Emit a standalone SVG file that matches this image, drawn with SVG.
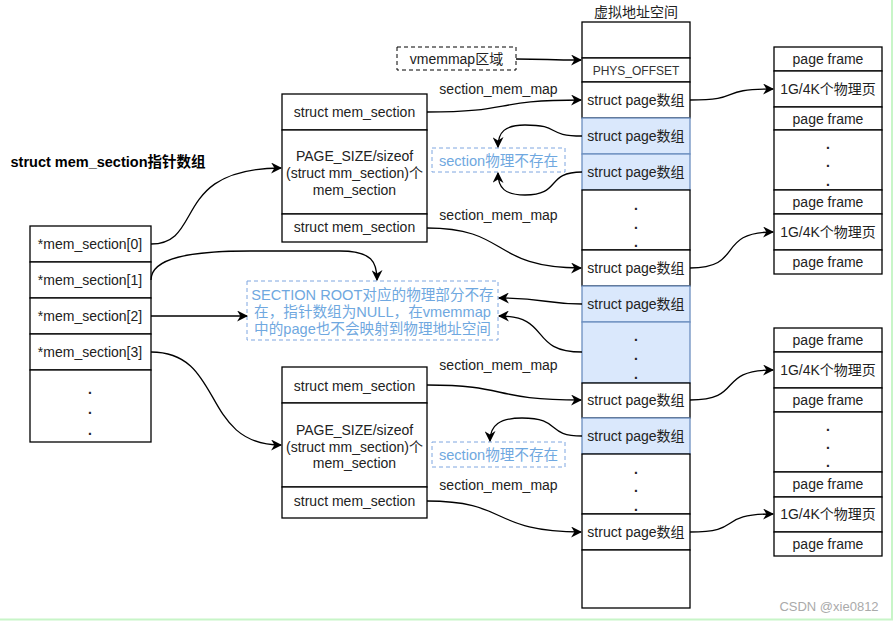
<svg xmlns="http://www.w3.org/2000/svg" width="893" height="621" viewBox="0 0 893 621">
<defs>
<style>
text{font-family:"Liberation Sans","Noto Sans CJK SC",sans-serif;font-size:14px;fill:#222;dominant-baseline:central;text-anchor:middle}
.box{fill:#fff;stroke:#000;stroke-width:1.3}
.blue{fill:#dae8fc;stroke:#6c8ebf;stroke-width:1.3}
.dash{fill:none;stroke:#7ea6e0;stroke-width:1;stroke-dasharray:4 3}
.bt{fill:#6fa8e0}
.big{font-size:14.6px}
.dot{font-weight:bold}
.edge{fill:none;stroke:#000;stroke-width:1.3;marker-end:url(#arr)}
</style>
<marker id="arr" viewBox="0 0 10 10" refX="9" refY="5" markerWidth="11" markerHeight="11" markerUnits="userSpaceOnUse" orient="auto">
<path d="M0,0 L10,5 L0,10 L3,5 Z" fill="#000"/>
</marker>
</defs>
<rect width="893" height="621" fill="#fff"/>
<path d="M892,0 V619.5 H0" fill="none" stroke="#c8f5c8" stroke-width="2"/>

<text x="108" y="162" style="font-weight:bold;font-size:14.5px;fill:#000">struct mem_section指针数组</text>

<g id="mem_section_array">
<rect class="box" x="30" y="226" width="121" height="36"/>
<text x="90" y="244">*mem_section[0]</text>
<rect class="box" x="30" y="262" width="121" height="36"/>
<text x="90" y="280">*mem_section[1]</text>
<rect class="box" x="30" y="298" width="121" height="36"/>
<text x="90" y="316">*mem_section[2]</text>
<rect class="box" x="30" y="334" width="121" height="36"/>
<text x="90" y="352">*mem_section[3]</text>
<rect class="box" x="30" y="370" width="121" height="72"/>
<text class="dot" x="90" y="389">.</text>
<text class="dot" x="90" y="409">.</text>
<text class="dot" x="90" y="430">.</text>
</g>

<g id="section_block_1">
<rect class="box" x="282" y="94" width="145" height="36"/>
<text x="354.5" y="112">struct mem_section</text>
<rect class="box" x="282" y="130" width="145" height="84"/>
<text x="354.5" y="156">PAGE_SIZE/sizeof</text>
<text x="354.5" y="173">(struct mm_section)个</text>
<text x="354.5" y="190">mem_section</text>
<rect class="box" x="282" y="214" width="145" height="28"/>
<text x="354.5" y="227">struct mem_section</text>
</g>

<g id="section_block_2">
<rect class="box" x="282" y="367" width="145" height="36"/>
<text x="354.5" y="386">struct mem_section</text>
<rect class="box" x="282" y="403" width="145" height="84"/>
<text x="354.5" y="430">PAGE_SIZE/sizeof</text>
<text x="354.5" y="447">(struct mm_section)个</text>
<text x="354.5" y="463">mem_section</text>
<rect class="box" x="282" y="487" width="145" height="31"/>
<text x="354.5" y="501">struct mem_section</text>
</g>

<g id="vmemmap_label">
<rect x="397" y="47" width="119" height="23" fill="#fff" stroke="#000" stroke-width="1" stroke-dasharray="4 3"/>
<text x="456.5" y="59">vmemmap区域</text>
</g>

<g id="section_root_note">
<rect class="dash" x="247" y="281" width="251" height="59"/>
<text class="bt big" x="372.5" y="295">SECTION ROOT对应的物理部分不存</text>
<text class="bt big" x="372.5" y="312">在，指针数组为NULL，在vmemmap</text>
<text class="bt big" x="372.5" y="329">中的page也不会映射到物理地址空间</text>
</g>

<g id="missing_note_1">
<rect class="dash" x="432" y="148" width="133" height="24"/>
<text class="bt big" x="498.5" y="161">section物理不存在</text>
</g>
<g id="missing_note_2">
<rect class="dash" x="432" y="442" width="133" height="25"/>
<text class="bt big" x="498.5" y="455">section物理不存在</text>
</g>

<g id="labels">
<text x="498.5" y="89">section_mem_map</text>
<text x="498.5" y="215">section_mem_map</text>
<text x="498.5" y="365">section_mem_map</text>
<text x="498.5" y="485">section_mem_map</text>
</g>

<g id="virtual_address_space">
<text x="636" y="12">虚拟地址空间</text>
<rect class="box" x="582" y="22" width="108" height="36"/>
<rect class="box" x="582" y="58" width="108" height="24"/>
<text x="636" y="71" style="font-size:12px;fill:#333">PHYS_OFFSET</text>
<rect class="box" x="582" y="82" width="108" height="36"/>
<text x="636" y="100">struct page数组</text>
<rect class="blue" x="582" y="118" width="108" height="36"/>
<text x="636" y="136">struct page数组</text>
<rect class="blue" x="582" y="154" width="108" height="36"/>
<text x="636" y="172">struct page数组</text>
<rect class="box" x="582" y="190" width="108" height="60"/>
<text class="dot" x="636" y="205">.</text>
<text class="dot" x="636" y="224">.</text>
<text class="dot" x="636" y="242">.</text>
<rect class="box" x="582" y="250" width="108" height="36"/>
<text x="636" y="268">struct page数组</text>
<rect class="blue" x="582" y="286" width="108" height="36"/>
<text x="636" y="304">struct page数组</text>
<rect class="blue" x="582" y="322" width="108" height="61"/>
<text class="dot" x="636" y="336">.</text>
<text class="dot" x="636" y="355">.</text>
<text class="dot" x="636" y="374">.</text>
<rect class="box" x="582" y="383" width="108" height="35"/>
<text x="636" y="400">struct page数组</text>
<rect class="blue" x="582" y="418" width="108" height="36"/>
<text x="636" y="436">struct page数组</text>
<rect class="box" x="582" y="454" width="108" height="60"/>
<text class="dot" x="636" y="469">.</text>
<text class="dot" x="636" y="487">.</text>
<text class="dot" x="636" y="506">.</text>
<rect class="box" x="582" y="514" width="108" height="36"/>
<text x="636" y="532">struct page数组</text>
<rect class="box" x="582" y="550" width="108" height="58"/>
</g>

<g id="physical_pages_1">
<rect class="box" x="774" y="47" width="108" height="24"/>
<text x="828" y="59">page frame</text>
<rect class="box" x="774" y="71" width="108" height="36"/>
<text x="828" y="89">1G/4K个物理页</text>
<rect class="box" x="774" y="107" width="108" height="23"/>
<text x="828" y="119">page frame</text>
<rect class="box" x="774" y="130" width="108" height="60"/>
<text class="dot" x="828" y="144">.</text>
<text class="dot" x="828" y="162">.</text>
<text class="dot" x="828" y="181">.</text>
<rect class="box" x="774" y="190" width="108" height="24"/>
<text x="828" y="202">page frame</text>
<rect class="box" x="774" y="214" width="108" height="36"/>
<text x="828" y="232">1G/4K个物理页</text>
<rect class="box" x="774" y="250" width="108" height="24"/>
<text x="828" y="262">page frame</text>
</g>

<g id="physical_pages_2">
<rect class="box" x="774" y="328" width="108" height="24"/>
<text x="828" y="340">page frame</text>
<rect class="box" x="774" y="352" width="108" height="36"/>
<text x="828" y="370">1G/4K个物理页</text>
<rect class="box" x="774" y="388" width="108" height="24"/>
<text x="828" y="400">page frame</text>
<rect class="box" x="774" y="412" width="108" height="60"/>
<text class="dot" x="828" y="426">.</text>
<text class="dot" x="828" y="444">.</text>
<text class="dot" x="828" y="462">.</text>
<rect class="box" x="774" y="472" width="108" height="25"/>
<text x="828" y="484">page frame</text>
<rect class="box" x="774" y="497" width="108" height="35"/>
<text x="828" y="514">1G/4K个物理页</text>
<rect class="box" x="774" y="532" width="108" height="24"/>
<text x="828" y="544">page frame</text>
</g>

<g id="connectors">
<path class="edge" d="M151,244 C205,244 170,168 281,168"/>
<path class="edge" d="M151,280 C151,258 190,251 250,251 L340,251 C372,251 377,262 377,280"/>
<path class="edge" d="M151,316 L247,316"/>
<path class="edge" d="M151,352 C225,352 200,445 281,445"/>
<path class="edge" d="M516,59 C550,59 545,60 581,60"/>
<path class="edge" d="M427,112 C515,112 490,100 581,100"/>
<path class="edge" d="M427,228 C510,228 490,268 581,268"/>
<path class="edge" d="M427,385 C510,385 490,400 581,400"/>
<path class="edge" d="M427,501 C510,501 490,532 581,532"/>
<path class="edge" d="M690,100 C745,100 715,89 773,89"/>
<path class="edge" d="M690,268 C745,268 715,232 773,232"/>
<path class="edge" d="M690,400 C745,400 715,370 773,370"/>
<path class="edge" d="M690,532 C745,532 715,514 773,514"/>
<path class="edge" d="M582,136 C545,136 562,125 525,125 C505,125 498,132 498,147"/>
<path class="edge" d="M582,172 C545,172 562,195 525,195 C505,195 498,188 498,173"/>
<path class="edge" d="M582,304 C545,304 545,298 499,298"/>
<path class="edge" d="M582,352 C528,352 552,316 499,316"/>
<path class="edge" d="M582,436 C545,436 562,418 522,418 C500,418 490,425 490,441"/>
</g>

<text x="829" y="606" style="font-size:13px;fill:#aaa">CSDN @xie0812</text>
</svg>
